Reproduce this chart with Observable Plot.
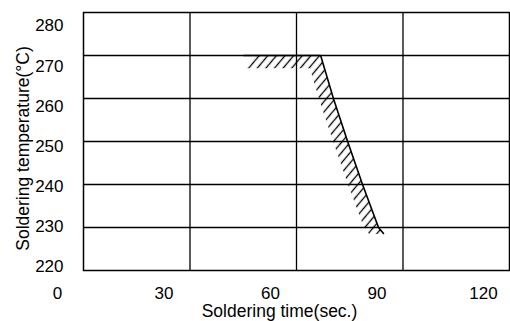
<!DOCTYPE html>
<html>
<head>
<meta charset="utf-8">
<script src="https://cdn.jsdelivr.net/npm/d3@7"></script>
<script src="https://cdn.jsdelivr.net/npm/@observablehq/plot@0.6"></script>
<style>
  html, body { margin: 0; padding: 0; background: #fff; }
  #chart svg { display: block; }
</style>
</head>
<body>
<div id="chart"></div>
<script>
// Axis ticks
const xTicks = [0, 30, 60, 90, 120];
const yTicks = [220, 230, 240, 250, 260, 270, 280];
const xGrid = [30, 60, 90];
const yGrid = [230, 240, 250, 260, 270];

// Soldering limit curve (time in s, temperature in °C)
const limitTime = [45.1, 66.8, 70.4, 74.4, 78.6, 83.1, 84.5];
const limitTemp = [270, 270, 260, 250, 240, 230, 228.6];

// Hatched band on the permitted side of the limit
const hatchTemp  = [270, 266.9, 266.9, 260, 250, 240, 230, 228.4];
const hatchLeft  = [48.6, 45.1, 63.9, 66.4, 70.4, 74.6, 79.1, 80.6];
const hatchRight = [66.8, 67.9, 67.9, 70.4, 74.4, 78.6, 83.1, 84.6];

const xTitle = "Soldering time(sec.)";
const yTitle = "Soldering temperature(°C)";

const limit = limitTime.map((t, i) => ({time: t, temp: limitTemp[i]}));
const hatch = hatchTemp.map((t, i) => ({temp: t, left: hatchLeft[i], right: hatchRight[i]}));

const font = "Liberation Sans, Arial, Helvetica, sans-serif";

const chart = Plot.plot({
  width: 510,
  height: 321,
  marginLeft: 83,
  marginRight: 1,
  marginTop: 12,
  marginBottom: 51,
  style: {fontFamily: font, fontSize: "17px", background: "white", color: "black"},
  x: {domain: [0, 120], axis: null},
  y: {domain: [220, 280], axis: null},
  marks: [
    Plot.areaX(hatch, {y: "temp", x1: "left", x2: "right", fill: "url(#hatch)", stroke: "none"}),
    Plot.ruleX(xGrid, {stroke: "black", strokeWidth: 1.3}),
    Plot.ruleY(yGrid, {stroke: "black", strokeWidth: 1.3}),
    Plot.frame({stroke: "black", strokeWidth: 1.5}),
    Plot.line(limit, {x: "time", y: "temp", stroke: "black", strokeWidth: 1.6}),
    // x tick labels (printed left of their grid lines in the original)
    Plot.text(xTicks, {x: d => d, y: 220, text: d => String(d), dy: 23, dx: -26,
      lineAnchor: "middle", textAnchor: "middle", fontSize: 17, fill: "black"}),
    // y tick labels (printed on a slightly compressed spacing in the original)
    Plot.text(yTicks, {frameAnchor: "left", y: d => 220.93 + (d - 220) * 0.932, text: d => String(d),
      dx: -20, textAnchor: "end", lineAnchor: "middle", fontSize: 17, fill: "black"}),
    Plot.text([xTitle], {frameAnchor: "bottom", text: d => d, dx: -17, dy: 41,
      lineAnchor: "middle", textAnchor: "middle", fontSize: 17.5, fill: "black"}),
    Plot.text([yTitle], {frameAnchor: "left", text: d => d, rotate: -90, dx: -60, dy: 7,
      lineAnchor: "middle", textAnchor: "middle", fontSize: 17.5, fill: "black"})
  ]
});

// hatch pattern definition
const defs = d3.select(chart).insert("defs", ":first-child");
const pat = defs.append("pattern")
  .attr("id", "hatch")
  .attr("patternUnits", "userSpaceOnUse")
  .attr("width", 6.6)
  .attr("height", 6.6)
  .attr("patternTransform", "rotate(40)");
pat.append("line")
  .attr("x1", 3.3).attr("y1", -1).attr("x2", 3.3).attr("y2", 7.6)
  .attr("stroke", "black").attr("stroke-width", 1.3);

document.getElementById("chart").append(chart);
</script>
</body>
</html>
